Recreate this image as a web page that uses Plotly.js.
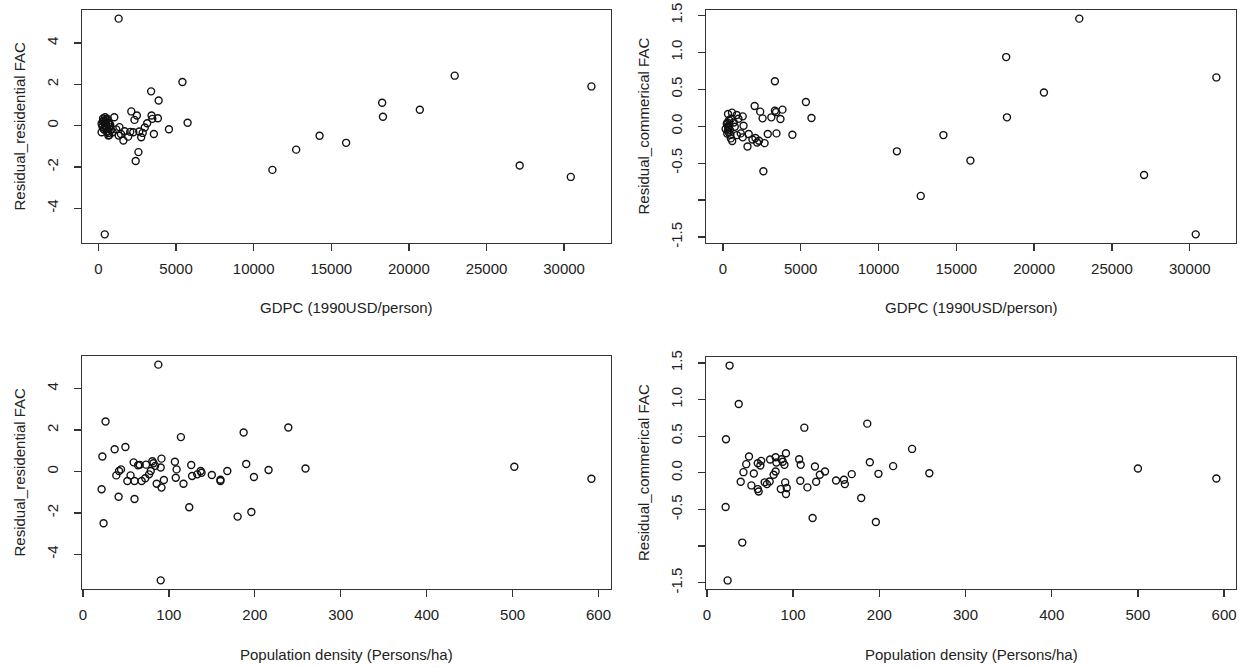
<!DOCTYPE html>
<html>
<head>
<meta charset="utf-8">
<script src="https://cdn.plot.ly/plotly-3.0.1.min.js"></script>
<style>html,body{margin:0;padding:0;background:#fff;}#chart{width:1244px;height:668px;}</style>
</head>
<body>
<div id="chart"></div>
<script>
// Panel 1: GDPC vs residual residential FAC
const gdpc1 = [1302, 408, 5412, 3395, 3880, 2119, 2476, 3421, 3472, 3830, 1021, 5744, 2323, 3140, 2987, 4544, 3574, 2757, 2247, 1915, 1608, 1353, 2578, 2400, 1302, 1685, 638, 434, 587, 204, 332, 204, 460, 715, 919, 2630,
  300, 350, 400, 450, 500, 550, 600, 650, 700, 280, 380, 520, 620, 760, 820, 260, 480, 560, 680, 1150, 1450, 2050, 2850,
  11208, 12740, 14246, 15957, 18279, 18330, 20705, 22952, 27138, 30432, 31759];
const resRes1 = [5.18, -5.26, 2.11, 1.66, 1.22, 0.69, 0.49, 0.49, 0.33, 0.36, 0.41, 0.14, 0.28, 0.12, -0.09, -0.17, -0.40, -0.56, -0.32, -0.53, -0.72, -0.07, -1.28, -1.71, -0.48, -0.27, -0.48, 0.41, 0.33, 0.09, -0.15, -0.32, 0.0, -0.07, -0.32, -0.28,
  0.35, 0.25, 0.15, 0.05, -0.05, -0.15, -0.25, -0.35, -0.45, 0.20, -0.20, 0.30, 0.10, 0.05, -0.20, -0.05, 0.22, -0.30, 0.12, -0.18, -0.40, -0.30, -0.35,
  -2.14, -1.16, -0.49, -0.83, 1.11, 0.43, 0.77, 2.42, -1.93, -2.48, 1.90];

// Panel 2: GDPC vs residual commercial FAC
const gdpc2 = [22900, 18203, 31708, 20629, 18254, 14170, 11182, 15905, 12714, 27063, 30381,
  3344, 5336, 5693, 2042, 2400, 3344, 3420, 3829, 3701, 3115, 2553, 3446, 4468, 2885, 2680, 2323, 2093, 1583, 2604, 1149, 1277, 1660, 1328, 1277, 894, 587, 332, 766, 511, 600, 383, 178, 255,
  300, 350, 400, 450, 280, 420, 480, 520, 320, 360, 700, 900, 1000, 1900, 2200];
const resCom2 = [1.455, 0.935, 0.66, 0.455, 0.12, -0.12, -0.34, -0.465, -0.943, -0.66, -1.463,
  0.609, 0.328, 0.11, 0.273, 0.197, 0.21, 0.19, 0.224, 0.097, 0.12, 0.106, -0.097, -0.115, -0.106, -0.229, -0.197, -0.16, -0.274, -0.609, -0.097, -0.151, -0.106, 0.007, 0.133, 0.152, 0.183, 0.165, -0.007, -0.165, -0.20, -0.084, -0.038, 0.03,
  0.05, -0.02, 0.08, -0.05, -0.10, 0.02, -0.12, 0.10, -0.06, 0.00, 0.05, -0.12, 0.10, -0.18, -0.22];

// Panel 3: population density vs residual residential FAC
const dens3 = [87.7, 90.5, 26.3, 239, 187, 114, 36.9, 49.4, 22.6, 91.4, 107, 59, 80.8, 190, 126, 64.2, 73.4, 90.5, 109, 259, 216, 502, 168, 137, 138, 133, 150, 127, 160, 108, 117, 199, 94.2, 85.8, 91.4, 78.9, 77, 72.5, 68.3, 60, 51.7, 55.4, 44.3, 42, 38.8, 21.7, 41.5, 60, 123.7, 24, 180, 196, 591.7, 84, 160, 66, 82];
const resRes3 = [5.16, -5.26, 2.41, 2.12, 1.88, 1.66, 1.07, 1.18, 0.72, 0.62, 0.47, 0.44, 0.49, 0.36, 0.31, 0.30, 0.33, 0.19, 0.10, 0.14, 0.07, 0.23, 0.02, 0.02, -0.06, -0.14, -0.17, -0.22, -0.46, -0.30, -0.59, -0.27, -0.41, -0.59, -0.78, 0.02, -0.14, -0.33, -0.46, -0.46, -0.46, -0.19, 0.10, 0.02, -0.19, -0.86, -1.22, -1.33, -1.73, -2.50, -2.18, -1.96, -0.35, 0.27, -0.40, 0.32, 0.40];

// Panel 4: population density vs residual commercial FAC
const dens4 = [26.3, 36.9, 22.1, 113, 186, 238, 189, 216, 258, 199, 168, 500, 591, 21.7, 41, 24, 122.6, 196, 179, 48.8, 45.6, 42.4, 39.2, 54.4, 51.6, 59, 63, 62, 59, 60, 69.6, 72.8, 73.3, 79.7, 80.6, 77.4, 79.7, 86.6, 89.9, 91.7, 85.7, 90.8, 92.6, 91.7, 107, 108.8, 108.3, 116.6, 125.3, 126.7, 131, 137, 149.8, 159, 160, 88, 67];
const resCom4 = [1.463, 0.938, 0.458, 0.616, 0.671, 0.326, 0.145, 0.091, -0.005, -0.014, -0.018, 0.059, -0.077, -0.467, -0.952, -1.468, -0.616, -0.671, -0.344, 0.222, 0.118, 0.009, -0.122, -0.009, -0.172, 0.131, 0.163, 0.1, -0.222, -0.254, -0.154, -0.118, 0.181, 0.213, 0.140, -0.027, 0.018, 0.186, 0.109, 0.267, -0.222, -0.131, -0.208, -0.29, 0.186, 0.109, -0.109, -0.199, 0.086, -0.122, -0.027, 0.018, -0.104, -0.095, -0.154, 0.15, -0.13];

// Tick labels
const gdpcTicks = [0, 5000, 10000, 15000, 20000, 25000, 30000];
const densTicks = [0, 100, 200, 300, 400, 500, 600];
const resResTicks = [-4, -2, 0, 2, 4];
const resComTicks = [-1.5, -1.0, -0.5, 0.0, 0.5, 1.0, 1.5];
const resComLabels = ['-1.5', '', '-0.5', '0.0', '0.5', '1.0', '1.5'];

const xTitleGdpc = 'GDPC (1990USD/person)';
const xTitleDens = 'Population density (Persons/ha)';
const yTitleRes = 'Residual_residential FAC';
const yTitleCom = 'Residual_commerical FAC';

function padRange(a) {
  const mn = Math.min(...a), mx = Math.max(...a);
  const p = (mx - mn) * 0.04;
  return [mn - p, mx + p];
}

const FONT = '"Liberation Sans", Arial, sans-serif';
const FS = 15;
const TXT = '#222';
const W = 1244, H = 668;
const fx = v => v / W;
const fy = v => 1 - v / H;

const boxes = {
  tl: {x: [82, 611], y: [10, 243]},
  tr: {x: [706, 1236], y: [10, 243]},
  bl: {x: [82, 611], y: [356, 589]},
  br: {x: [706, 1236], y: [357, 589]}
};

const marker = {symbol: 'circle-open', size: 7, color: '#111', line: {width: 1.4, color: '#111'}};

function tr(x, y, xa, ya) {
  return {x: x, y: y, xaxis: xa, yaxis: ya, type: 'scatter', mode: 'markers', marker: marker, hoverinfo: 'x+y', showlegend: false};
}

const data = [
  tr(gdpc1, resRes1, 'x', 'y'),
  tr(gdpc2, resCom2, 'x2', 'y2'),
  tr(dens3, resRes3, 'x3', 'y3'),
  tr(dens4, resCom4, 'x4', 'y4')
];

function axisBase() {
  return {
    showgrid: false, zeroline: false, showline: true, mirror: true,
    linecolor: '#333', linewidth: 1.4,
    ticks: 'outside', ticklen: 7, tickwidth: 1.3, tickcolor: '#333',
    tickfont: {family: FONT, size: FS, color: TXT},
    tickmode: 'array', fixedrange: true
  };
}

function xAxis(b, vals, arr, anchor) {
  return Object.assign(axisBase(), {
    domain: [fx(b.x[0]), fx(b.x[1])], anchor: anchor,
    range: padRange(arr), tickvals: vals, ticktext: vals.map(String),
    ticklabelstandoff: 5
  });
}
function yAxis(b, vals, labels, arr, anchor) {
  return Object.assign(axisBase(), {
    domain: [fy(b.y[1]), fy(b.y[0])], anchor: anchor,
    range: padRange(arr), tickvals: vals, ticktext: labels,
    tickangle: -90, ticklabelstandoff: 10
  });
}

function ann(text, x, y, angle) {
  return {text: text, x: x, y: y, xref: 'paper', yref: 'paper', showarrow: false,
    textangle: angle, xanchor: 'center', yanchor: 'middle',
    font: {family: FONT, size: FS, color: TXT}};
}
function midX(b) { return fx((b.x[0] + b.x[1]) / 2); }
function midY(b) { return fy((b.y[0] + b.y[1]) / 2); }

const layout = {
  width: W, height: H,
  margin: {l: 0, r: 0, t: 0, b: 0},
  paper_bgcolor: '#fff', plot_bgcolor: '#fff',
  showlegend: false,
  xaxis: xAxis(boxes.tl, gdpcTicks, gdpc1, 'y'),
  yaxis: yAxis(boxes.tl, resResTicks, resResTicks.map(String), resRes1, 'x'),
  xaxis2: xAxis(boxes.tr, gdpcTicks, gdpc2, 'y2'),
  yaxis2: yAxis(boxes.tr, resComTicks, resComLabels, resCom2, 'x2'),
  xaxis3: xAxis(boxes.bl, densTicks, dens3, 'y3'),
  yaxis3: yAxis(boxes.bl, resResTicks, resResTicks.map(String), resRes3, 'x3'),
  xaxis4: xAxis(boxes.br, densTicks, dens4, 'y4'),
  yaxis4: yAxis(boxes.br, resComTicks, resComLabels, resCom4, 'x4'),
  annotations: [
    ann(xTitleGdpc, midX(boxes.tl), fy(307), 0),
    ann(xTitleGdpc, midX(boxes.tr), fy(307), 0),
    ann(xTitleDens, midX(boxes.bl), fy(654), 0),
    ann(xTitleDens, midX(boxes.br), fy(654), 0),
    ann(yTitleRes, fx(19), midY(boxes.tl), -90),
    ann(yTitleCom, fx(643), midY(boxes.tr), -90),
    ann(yTitleRes, fx(19), midY(boxes.bl), -90),
    ann(yTitleCom, fx(643), midY(boxes.br), -90)
  ]
};

Plotly.newPlot('chart', data, layout, {displayModeBar: false, staticPlot: true});
</script>
</body>
</html>
